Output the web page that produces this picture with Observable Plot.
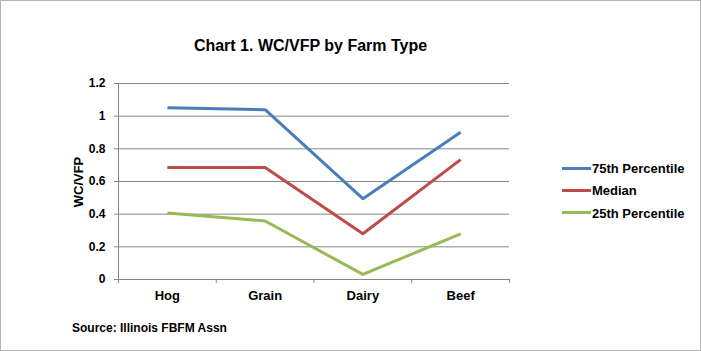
<!DOCTYPE html>
<html>
<head>
<meta charset="utf-8">
<script src="https://cdn.jsdelivr.net/npm/d3@7"></script>
<script src="https://cdn.jsdelivr.net/npm/@observablehq/plot@0.6"></script>
<style>
  html, body { margin: 0; padding: 0; background: #fff; }
  #wrap { position: relative; width: 701px; height: 351px; overflow: hidden; background: #fff;
          font-family: "Liberation Sans", Arial, sans-serif; font-weight: bold; color: #000; }
  #wrap svg { position: absolute; left: 0; top: 0; }
  .abs { position: absolute; line-height: 1; white-space: nowrap; }
  #frame { position: absolute; left: 0; top: 0; width: 701px; height: 351px; box-sizing: border-box;
           border: 1px solid #b4b4b4; pointer-events: none; }
</style>
</head>
<body>
<div id="wrap"></div>
<script>
const titleText = "Chart 1. WC/VFP by Farm Type";
const yLabel = "WC/VFP";
const sourceText = "Source: Illinois FBFM Assn";
const categories = ["Hog", "Grain", "Dairy", "Beef"];
const seriesNames = ["75th Percentile", "Median", "25th Percentile"];
const seriesColors = ["#4A7EBB", "#BE4B48", "#98B954"];
const p75 = [1.052, 1.040, 0.495, 0.902];
const median = [0.685, 0.685, 0.280, 0.734];
const p25 = [0.407, 0.358, 0.031, 0.280];
const yTicks = [0, 0.2, 0.4, 0.6, 0.8, 1, 1.2];

const seriesValues = [p75, median, p25];
const data = [];
seriesNames.forEach((s, k) => {
  seriesValues[k].forEach((v, i) => data.push({series: s, pos: i + 0.5, value: v}));
});

const W = 701, H = 351;
const chart = Plot.plot({
  width: W,
  height: H,
  marginLeft: 118,
  marginRight: 192,
  marginTop: 83,
  marginBottom: 72,
  style: {fontFamily: "'Liberation Sans', Arial, sans-serif", fontWeight: "bold", fontSize: "12px", background: "transparent", color: "#000"},
  x: {type: "linear", domain: [0, categories.length], label: null},
  y: {domain: [0, 1.2], label: null},
  color: {domain: seriesNames, range: seriesColors},
  marks: [
    Plot.gridY(yTicks, {stroke: "#868686", strokeOpacity: 1}),
    Plot.ruleX([0], {stroke: "#868686"}),
    Plot.ruleY([0], {stroke: "#868686"}),
    Plot.axisY(yTicks, {label: null, tickSize: 4, tickPadding: 9, stroke: "#868686", fill: "#000",
      tickFormat: d => String(d), fontSize: 12, fontWeight: "bold"}),
    Plot.axisX(d3.range(categories.length + 1), {label: null, tickSize: 4, stroke: "#868686", tickFormat: () => ""}),
    Plot.axisX(categories.map((c, i) => i + 0.5), {label: null, tickSize: 0, tickPadding: 11, fill: "#000",
      tickFormat: d => categories[Math.round(d - 0.5)], fontSize: 13, fontWeight: "bold"}),
    Plot.line(data, {x: "pos", y: "value", z: "series", stroke: "series", strokeWidth: 3,
      strokeLinecap: "butt", strokeLinejoin: "round"})
  ]
});

const wrap = document.getElementById("wrap");
wrap.appendChild(chart);

function addText(txt, css) {
  const d = document.createElement("div");
  d.className = "abs";
  d.textContent = txt;
  Object.assign(d.style, css);
  wrap.appendChild(d);
  return d;
}

addText(titleText, {left: "310.5px", top: "37.8px", fontSize: "16px", transform: "translateX(-50%)"});
addText(yLabel, {left: "77.7px", top: "182px", fontSize: "13px", transform: "translate(-50%, -50%) rotate(-90deg)"});
addText(sourceText, {left: "72px", top: "321.5px", fontSize: "12px"});

const rowY = [168.3, 190.6, 212.9];
seriesNames.forEach((s, k) => {
  const line = document.createElement("div");
  Object.assign(line.style, {position: "absolute", left: "562px", top: (rowY[k] - 1.5) + "px",
    width: "29px", height: "3px", background: seriesColors[k]});
  wrap.appendChild(line);
  addText(s, {left: "592px", top: (rowY[k] - 6.4) + "px", fontSize: "13px"});
});

const frame = document.createElement("div");
frame.id = "frame";
wrap.appendChild(frame);
</script>
</body>
</html>
